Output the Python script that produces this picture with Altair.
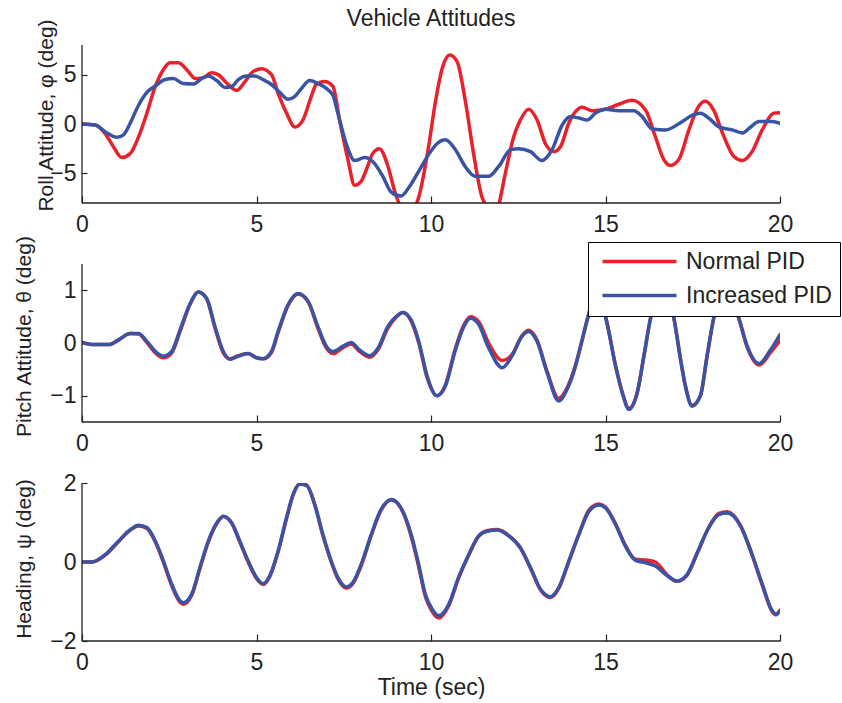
import altair as alt
import pandas as pd

SERIES = ["Normal PID", "Increased PID"]
COLORS = ["#E8212B", "#3A54A4"]
XTICKS = [0, 5, 10, 15, 20]

# ---------------- Roll attitude ----------------
roll_t_normal = [0, 0.38, 0.67, 0.9, 1.14, 1.38, 1.62, 1.86, 2.1, 2.33, 2.52, 2.76, 3.05, 3.24,
                 3.48, 3.71, 3.9, 4.19, 4.43, 4.67, 4.9, 5.14, 5.43, 5.62, 5.86, 6.1, 6.33, 6.57,
                 6.71, 6.95, 7.19, 7.38, 7.62, 7.81, 8.0, 8.14, 8.33, 8.52, 8.76, 8.95, 9.1, 9.25,
                 9.4, 9.55, 9.65, 9.93, 10.12, 10.31, 10.54, 10.75, 10.98, 11.22, 11.46, 11.56,
                 11.65, 11.75, 11.85, 11.94, 12.13, 12.37, 12.56, 12.8, 13.04, 13.28, 13.52, 13.71,
                 13.95, 14.14, 14.33, 14.62, 15.0, 15.38, 15.76, 16.15, 16.43, 16.67, 16.86, 17.1,
                 17.39, 17.67, 17.86, 18.1, 18.35, 18.68, 18.92, 19.2, 19.49, 19.83, 20.0]
roll_normal = [0, -0.1, -1.0, -2.3, -3.4, -3.0, -1.3, 1.1, 3.8, 5.5, 6.2, 6.2, 5.3, 4.6,
               4.7, 5.2, 5.0, 4.0, 3.4, 4.3, 5.3, 5.6, 5.0, 3.1, 1.1, -0.3, 0.4, 2.8,
               4.0, 4.3, 3.8, 0.4, -3.6, -6.2, -5.8, -4.7, -3.0, -2.5, -4.2, -6.7, -8.2, -9.3,
               -9.5, -8.4, -7.4, -2.3, 2.1, 5.5, 7.0, 6.3, 2.4, -3.0, -7.4, -8.2,
               -9.4, -9.7, -9.2, -8.2, -5.0, -1.3, 0.4, 1.5, 0.4, -2.0, -2.8, -2.3,
               0.1, 1.25, 1.7, 1.35, 1.5, 2.0, 2.4, 1.4, -1.3, -3.6, -4.2, -3.6,
               -0.6, 1.8, 2.3, 1.4, -0.9, -3.3, -3.7, -2.8, -0.6, 1.1, 1.15]
roll_t_inc = [0, 0.38, 0.67, 1.0, 1.19, 1.38, 1.62, 1.86, 2.1, 2.38, 2.62, 2.9, 3.19, 3.43,
              3.62, 3.86, 4.1, 4.29, 4.48, 4.71, 4.95, 5.19, 5.43, 5.67, 5.9, 6.1, 6.29, 6.52,
              6.76, 7.0, 7.19, 7.33, 7.57, 7.81, 8.1, 8.33, 8.62, 8.86, 9.14, 9.38, 9.63, 9.93,
              10.17, 10.41, 10.7, 10.98, 11.27, 11.65, 11.94, 12.28, 12.51, 12.85, 13.18, 13.47,
              13.76, 14.0, 14.24, 14.47, 14.71, 15.0, 15.38, 15.81, 16.05, 16.34, 16.72, 17.2,
              17.49, 17.72, 17.96, 18.25, 18.63, 18.92, 19.16, 19.4, 19.78, 20.0]
roll_inc = [0, -0.1, -0.8, -1.35, -1.1, 0.07, 1.9, 3.2, 3.85, 4.5, 4.6, 4.1, 4.05, 4.6,
            4.85, 4.4, 3.7, 3.8, 4.5, 4.85, 4.85, 4.5, 4.0, 3.2, 2.5, 2.8, 3.6, 4.4,
            4.1, 3.6, 2.9, 1.1, -2.0, -3.7, -3.4, -3.8, -5.3, -6.9, -7.3, -6.35, -4.9, -3.1,
            -2.0, -1.6, -2.6, -4.3, -5.3, -5.3, -4.3, -2.6, -2.5, -2.8, -3.7, -2.6,
            -0.1, 0.75, 0.6, 0.4, 1.1, 1.5, 1.35, 1.35, 0.75, -0.5, -0.6, 0.25,
            0.9, 1.1, 0.6, -0.3, -0.6, -0.9, -0.3, 0.25, 0.25, 0.07]

# ---------------- Pitch attitude ----------------
pitch_t = [0, 0.33, 0.76, 1.05, 1.38, 1.62, 1.86, 2.1, 2.33, 2.57, 2.81, 3.1, 3.33, 3.57,
           3.81, 4.05, 4.24, 4.48, 4.76, 5.0, 5.19, 5.43, 5.62, 5.9, 6.19, 6.48, 6.76, 7.0,
           7.19, 7.48, 7.71, 7.95, 8.24, 8.48, 8.76, 9.0, 9.19, 9.43, 9.65, 9.89, 10.17, 10.41,
           10.7, 10.94, 11.13, 11.37, 11.65, 12.04, 12.32, 12.61, 12.8, 13.04, 13.33, 13.66,
           13.9, 14.14, 14.33, 14.5, 14.72, 15.0, 15.29, 15.48, 15.67, 15.91, 16.1, 16.29,
           16.62, 16.96, 17.15, 17.29, 17.48, 17.72, 17.91, 18.1, 18.46, 18.82, 19.06, 19.4,
           19.73, 20.0]
pitch_normal = [0.01, -0.03, -0.03, 0.06, 0.18, 0.17, 0.01, -0.19, -0.28, -0.19, 0.22, 0.74, 0.97, 0.84,
                0.29, -0.19, -0.3, -0.24, -0.2, -0.28, -0.3, -0.18, 0.2, 0.71, 0.93, 0.78, 0.28, -0.09,
                -0.2, -0.09, -0.02, -0.16, -0.27, -0.13, 0.28, 0.49, 0.58, 0.42, 0.0, -0.66, -1.0, -0.8,
                -0.1, 0.34, 0.5, 0.4, 0.0, -0.33, -0.22, 0.14, 0.24, 0.05, -0.55, -1.05,
                -0.85, -0.42, 0.05, 0.5, 0.9, 0.5, -0.44, -0.94, -1.24, -0.94, -0.25, 0.47,
                1.1, 0.47, -0.31, -0.82, -1.18, -1.0, -0.25, 0.47, 1.1, 0.47, -0.08, -0.42,
                -0.18, 0.05]
pitch_inc = [0.01, -0.03, -0.03, 0.06, 0.18, 0.18, 0.03, -0.16, -0.25, -0.16, 0.25, 0.75, 0.97, 0.85,
             0.31, -0.16, -0.31, -0.25, -0.2, -0.28, -0.3, -0.16, 0.22, 0.72, 0.94, 0.79, 0.31, -0.06,
             -0.16, -0.06, 0.01, -0.13, -0.24, -0.1, 0.31, 0.5, 0.58, 0.44, 0.03, -0.63, -1.0, -0.82,
             -0.13, 0.31, 0.47, 0.35, -0.09, -0.47, -0.25, 0.13, 0.22, 0.03, -0.57, -1.1,
             -0.88, -0.44, 0.06, 0.5, 0.9, 0.5, -0.44, -0.94, -1.26, -0.94, -0.25, 0.47,
             1.1, 0.47, -0.31, -0.82, -1.2, -1.0, -0.25, 0.47, 1.1, 0.47, -0.06, -0.39,
             -0.13, 0.16]

# ---------------- Heading ----------------
head_t = [0, 0.29, 0.67, 1.05, 1.33, 1.62, 1.86, 2.1, 2.33, 2.57, 2.81, 2.9, 3.14, 3.38,
          3.62, 3.86, 4.05, 4.29, 4.52, 4.76, 5.0, 5.19, 5.38, 5.62, 5.86, 6.05, 6.24, 6.43,
          6.67, 6.9, 7.14, 7.33, 7.57, 7.76, 8.0, 8.29, 8.57, 8.86, 9.14, 9.43, 9.63, 9.84,
          10.03, 10.22, 10.51, 10.79, 11.08, 11.37, 11.61, 11.9, 12.23, 12.56, 12.85, 13.14,
          13.42, 13.66, 13.95, 14.24, 14.53, 14.81, 15.0, 15.29, 15.57, 15.86, 16.15, 16.43,
          16.77, 17.05, 17.34, 17.63, 17.96, 18.25, 18.49, 18.87, 19.2, 19.49, 19.78, 19.88, 20.0]
head_normal = [0, 0, 0.18, 0.52, 0.77, 0.91, 0.85, 0.51, 0.0, -0.6, -1.02, -1.07, -0.85, -0.16,
               0.51, 0.97, 1.15, 0.98, 0.51, 0.0, -0.42, -0.57, -0.37, 0.26, 1.1, 1.7, 1.98, 1.95,
               1.45, 0.68, 0.0, -0.42, -0.66, -0.55, -0.09, 0.68, 1.31, 1.57, 1.36, 0.66, -0.05, -0.88,
               -1.25, -1.42, -1.1, -0.41, 0.17, 0.66, 0.79, 0.82, 0.67, 0.36, -0.16, -0.71,
               -0.9, -0.67, 0.01, 0.71, 1.32, 1.47, 1.39, 0.96, 0.42, 0.07, 0.05, 0.0,
               -0.33, -0.49, -0.33, 0.22, 0.88, 1.23, 1.27, 0.92, 0.18, -0.58, -1.26, -1.34, -1.22]
head_inc = [0, 0, 0.19, 0.53, 0.78, 0.93, 0.87, 0.53, 0.03, -0.56, -0.98, -1.03, -0.82, -0.14,
            0.53, 0.99, 1.16, 0.99, 0.53, 0.03, -0.39, -0.55, -0.35, 0.28, 1.12, 1.71, 1.97, 1.94,
            1.45, 0.7, 0.03, -0.39, -0.63, -0.52, -0.06, 0.7, 1.33, 1.58, 1.37, 0.7, 0.0, -0.82,
            -1.19, -1.36, -1.07, -0.39, 0.19, 0.66, 0.78, 0.81, 0.66, 0.36, -0.14, -0.69,
            -0.88, -0.65, 0.03, 0.7, 1.29, 1.44, 1.37, 0.95, 0.4, 0.04, -0.02, -0.1,
            -0.35, -0.48, -0.31, 0.24, 0.87, 1.2, 1.24, 0.91, 0.19, -0.56, -1.24, -1.32, -1.24]

FONT = "Liberation Sans"
TXT = "#222222"
FS = 23      # tick labels, legend, titles
YFS = 21     # rotated axis titles
W, H = 698, 158


def make_df(t1, v1, t2, v2):
    return pd.DataFrame({
        "t": list(t1) + list(t2),
        "v": list(v1) + list(v2),
        "series": [SERIES[0]] * len(t1) + [SERIES[1]] * len(t2),
    })


# one shared legend (identical in every panel so the merged legend stays enabled)
LEGEND = alt.Legend(title=None, orient="none", legendX=506, legendY=197,
                    fillColor="white", strokeColor="black", padding=8,
                    symbolType="M-5,0L5,0", symbolSize=219, symbolStrokeWidth=3.5,
                    symbolOffset=32, labelOffset=35, labelFont=FONT, labelFontSize=FS,
                    labelColor=TXT, rowPadding=10, cornerRadius=0, zindex=2)


def panel(df, ydom, yticks, ytitle, title_x, title_y, xtitle=None, title=None):
    xscale = alt.Scale(domain=[0, 20], nice=False, zero=False)
    yscale = alt.Scale(domain=ydom, nice=False, zero=False)
    xaxis_kw = dict(values=XTICKS, domain=False, grid=False, tickSize=7, offset=-7,
                    labelPadding=10, labelFontSize=FS, labelFont=FONT, labelColor=TXT,
                    tickColor=TXT, tickWidth=1.2, labelFlush=False)
    if xtitle:
        xaxis = alt.Axis(title=xtitle, titleFont=FONT, titleFontSize=FS, titleFontWeight="normal",
                         titleColor=TXT, titlePadding=2, **xaxis_kw)
    else:
        xaxis = alt.Axis(title=None, **xaxis_kw)
    yaxis = alt.Axis(values=yticks, domain=False, grid=False, tickSize=5, offset=-5,
                     labelPadding=6, labelFontSize=FS, labelFont=FONT, labelColor=TXT,
                     tickColor=TXT, tickWidth=1.2, title=ytitle, titleFont=FONT,
                     titleFontSize=YFS, titleFontWeight="normal", titleColor=TXT,
                     titleAngle=270, titleX=title_x, titleY=title_y, titleBaseline="middle",
                     titleAlign="center", labelFlush=False)
    color = alt.Color("series:N", scale=alt.Scale(domain=SERIES, range=COLORS),
                      legend=LEGEND)
    base = alt.Chart(df)
    layers = []
    for s in SERIES:
        layers.append(
            base.transform_filter(alt.datum.series == s)
            .mark_line(strokeWidth=3.5, clip=True, interpolate="monotone",
                       strokeJoin="round", strokeCap="round")
            .encode(x=alt.X("t:Q", scale=xscale, axis=xaxis),
                    y=alt.Y("v:Q", scale=yscale, axis=yaxis),
                    color=color)
        )
    # axis frame (left and bottom edges of the plot area)
    one = alt.Chart(pd.DataFrame({"k": [0]}))
    left = one.mark_rule(color=TXT, strokeWidth=1.3).encode(
        x=alt.value(0), y=alt.value(0), y2=alt.value(H))
    bottom = one.mark_rule(color=TXT, strokeWidth=1.3).encode(
        y=alt.value(H), x=alt.value(0), x2=alt.value(W))
    layers += [left, bottom]
    props = dict(width=W, height=H)
    if title:
        props["title"] = alt.TitleParams(title, font=FONT, fontSize=FS, fontWeight="normal",
                                         color=TXT, offset=-13, frame="group", anchor="middle")
    return alt.layer(*layers).properties(**props)


roll_df = make_df(roll_t_normal, roll_normal, roll_t_inc, roll_inc)
pitch_df = make_df(pitch_t, pitch_normal, pitch_t, pitch_inc)
head_df = make_df(head_t, head_normal, head_t, head_inc)

top = panel(roll_df, [-8, 8], [-5, 0, 5], "Roll Attitude, φ (deg)", -41, 70,
            title="Vehicle Attitudes")
mid = panel(pitch_df, [-1.5, 1.5], [-1, 0, 1], "Pitch Attitude, θ (deg)", -63, 72)
bot = panel(head_df, [-2, 2], [-2, 0, 2], "Heading, ψ (deg)", -63, 75.5, xtitle="Time (sec)")

chart = alt.vconcat(top, mid, bot, spacing=61, bounds="flush").properties(
    padding={"left": 13, "top": 8, "right": 0, "bottom": 0}
).configure(background="white").configure_view(stroke=None)

chart.save("out.html", embed_options={"renderer": "svg", "actions": False})
